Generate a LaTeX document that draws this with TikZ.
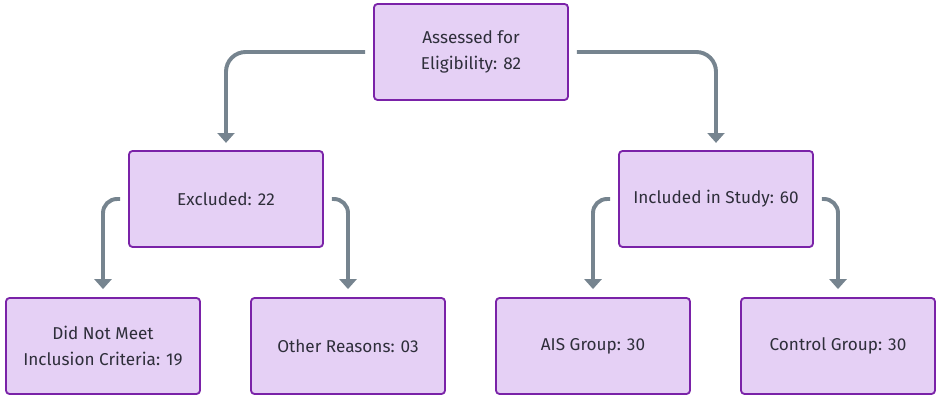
\documentclass[tikz,border=0pt]{standalone}
\usepackage{fontspec}
\setmainfont{Fira Sans}
\usetikzlibrary{arrows.meta, positioning}
\definecolor{CFill}{HTML}{E5D0F5}
\definecolor{CEdge}{HTML}{7A22A8}
\definecolor{CLink}{HTML}{76848F}
\definecolor{CText}{HTML}{2E2E3A}

\begin{document}
\begin{tikzpicture}[
    box/.style={draw=CEdge, fill=CFill, line width=1.3pt, rounded corners=2.5pt,
        minimum width=4.85cm, minimum height=2.4cm, align=center, text=CText,
        font=\fontsize{12.2}{18}\selectfont},
    link/.style={draw=CLink, line width=2.8pt, rounded corners=10pt,
        -{Triangle[length=7pt, width=12pt]}}]
    \useasboundingbox (0,0) rectangle (23.525,10);

    % Top
    \node[box] (assessed) at (11.775, 8.7) {Assessed for\\Eligibility: 82};

    % Second row
    \node[box] (excluded) at (5.65, 5.025) {Excluded: 22};
    \node[box] (included) at (17.9, 5.025) {Included in Study: 60};

    % Bottom row
    \node[box] (criteria) at (2.575, 1.35) {Did Not Meet\\Inclusion Criteria: 19};
    \node[box] (other) at (8.7, 1.35) {Other Reasons: 03};
    \node[box] (ais) at (14.825, 1.35) {AIS Group: 30};
    \node[box] (control) at (20.95, 1.35) {Control Group: 30};

    % Links
    \draw[link, rounded corners=14pt] ([xshift=-0.2cm]assessed.west) -| ([yshift=0.18cm]excluded.north);
    \draw[link, rounded corners=14pt] ([xshift=0.2cm]assessed.east) -| ([yshift=0.18cm]included.north);
    \draw[link] ([xshift=-0.2cm]excluded.west) -| ([yshift=0.2cm]criteria.north);
    \draw[link] ([xshift=0.2cm]excluded.east) -| ([yshift=0.2cm]other.north);
    \draw[link] ([xshift=-0.2cm]included.west) -| ([yshift=0.2cm]ais.north);
    \draw[link] ([xshift=0.2cm]included.east) -| ([yshift=0.2cm]control.north);
\end{tikzpicture}
\end{document}
